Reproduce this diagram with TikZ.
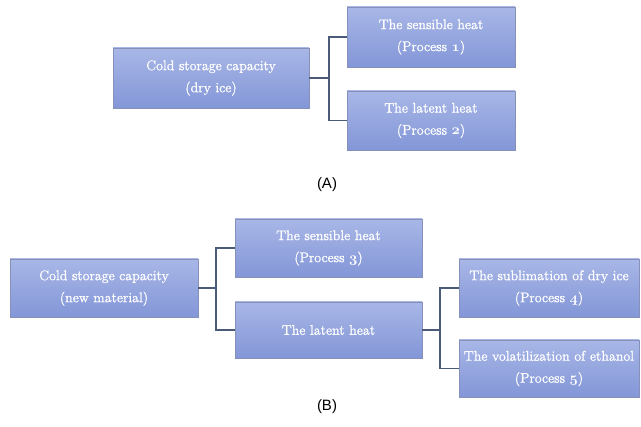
\documentclass[tikz,border=0pt]{standalone}
\usepackage{fontspec}
\newfontfamily\labfont{Liberation Sans}
\newfontfamily\boxfont{Latin Modern Roman}[FakeBold=1.2]
\newcommand\osnum[1]{{\usefont{OML}{cmm}{b}{it}#1}}
\usetikzlibrary{shadows}
\definecolor{boxtop}{HTML}{A8B7E7}
\definecolor{boxbot}{HTML}{8396D7}
\definecolor{boxedge}{HTML}{8790B8}
\definecolor{linkc}{HTML}{4A5A78}
\tikzset{
  procbox/.style={draw=boxedge, line width=0.8pt, top color=boxtop, bottom color=boxbot,
    text=white, align=center, inner sep=0pt,
    font=\boxfont\fontsize{14}{22}\selectfont,
    drop shadow={shadow xshift=1.2pt, shadow yshift=-1.2pt, opacity=0.25, fill=gray}},
  link/.style={draw=linkc, line width=1.2pt},
  partlabel/.style={font=\labfont\fontsize{15}{18}\selectfont, text=black}
}
\begin{document}
\begin{tikzpicture}[x=1pt,y=-1pt]
\useasboundingbox (0,0) rectangle (641,427);
% Part A
\node[procbox, minimum width=196pt, minimum height=60pt] (a0) at (211,78) {Cold storage capacity\\(dry ice)};
\node[procbox, minimum width=168pt, minimum height=60pt] (a1) at (431,37) {The sensible heat\\(Process \osnum{1})};
\node[procbox, minimum width=168pt, minimum height=59pt] (a2) at (431,120.5) {The latent heat\\(Process \osnum{2})};
\coordinate (ja) at (329,78);
\draw[link] (a0.east) -- (ja);
\draw[link] (ja) |- (a1.west);
\draw[link] (ja) |- (a2.west);
\node[partlabel] (la) at (327,185) {(A)};
% Part B
\node[procbox, minimum width=188pt, minimum height=58pt] (b0) at (104,288) {Cold storage capacity\\(new material)};
\node[procbox, minimum width=187pt, minimum height=58pt] (b1) at (328.5,248) {The sensible heat\\(Process \osnum{3})};
\node[procbox, minimum width=187pt, minimum height=56pt] (b2) at (328.5,330) {The latent heat};
\node[procbox, minimum width=180pt, minimum height=58pt] (b3) at (549,288) {The sublimation of dry ice\\(Process \osnum{4})};
\node[procbox, minimum width=180pt, minimum height=57pt] (b4) at (549,368.5) {The volatilization of ethanol\\(Process \osnum{5})};
\coordinate (jb) at (216,288);
\draw[link] (b0.east) -- (jb);
\draw[link] (jb) |- (b1.west);
\draw[link] (jb) |- (b2.west);
\coordinate (jc) at (440,330);
\draw[link] (b2.east) -- (jc);
\draw[link] (jc) |- (b3.west);
\draw[link] (jc) |- (b4.west);
\node[partlabel] (lb) at (327,407) {(B)};
\end{tikzpicture}
\end{document}
